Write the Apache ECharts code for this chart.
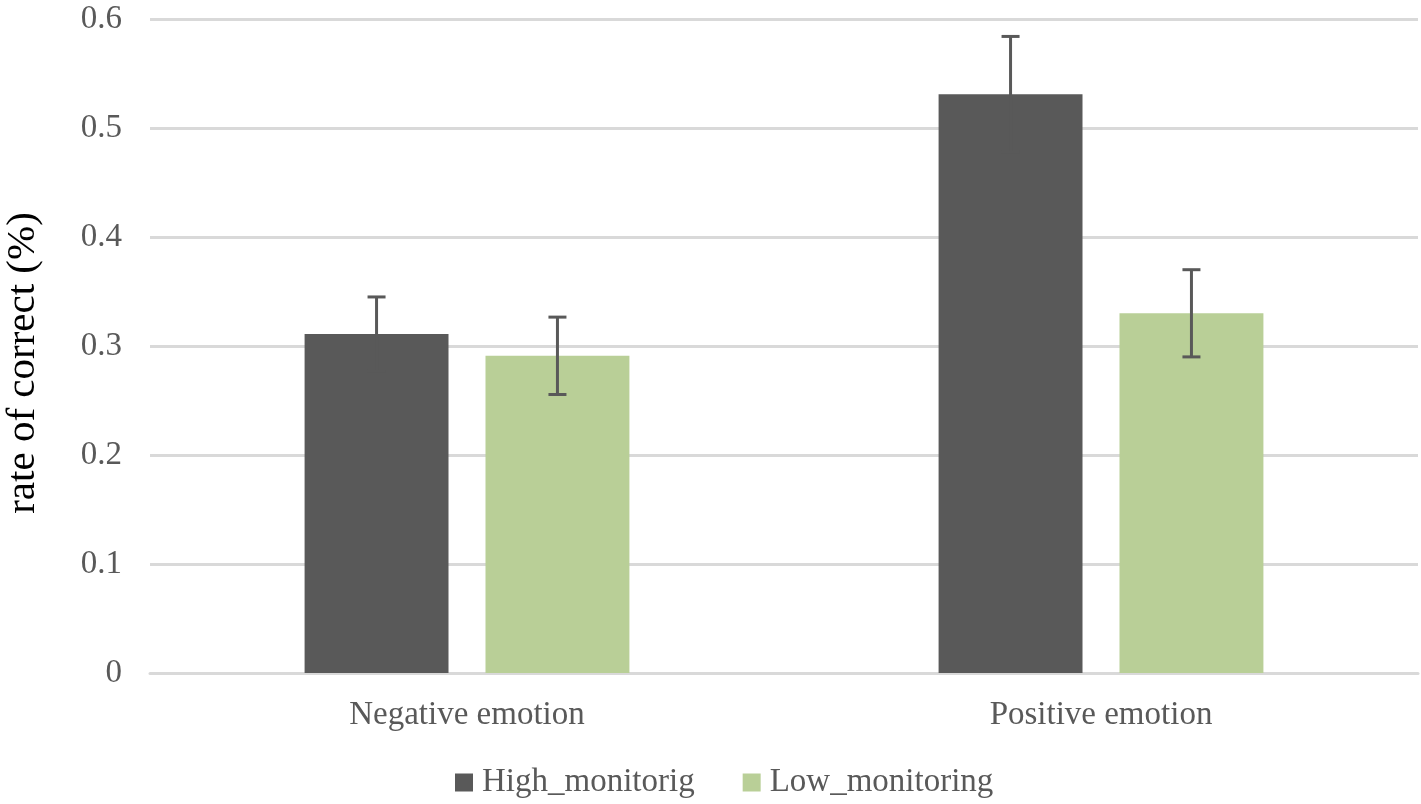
<!DOCTYPE html>
<html>
<head>
<meta charset="utf-8">
<script src="https://cdn.jsdelivr.net/npm/echarts@6/dist/echarts.min.js"></script>
<style>
html,body{margin:0;padding:0;background:#fff;}
#main{width:1421px;height:804px;}
</style>
</head>
<body>
<div id="main"></div>
<script>
var categories = ['Negative emotion', 'Positive emotion'];
var seriesNames = ['High_monitorig', 'Low_monitoring'];
var highValues = [0.311, 0.531];
var lowValues = [0.291, 0.330];
var highErrors = [0.034, 0.053];
var lowErrors = [0.0355, 0.040];
var yTicks = [0, 0.1, 0.2, 0.3, 0.4, 0.5, 0.6];

var colors = ['#595959', '#b9cf97'];
var barPct = 0.227;
var gapPct = 0.257;

function errorSeries(idx, values, errors) {
	var data = [];
	for (var i = 0; i < values.length; i++) {
		data.push([i, values[i] - errors[i], values[i] + errors[i]]);
	}
	return {
		type: 'custom',
		name: seriesNames[idx],
		z: 10,
		silent: true,
		renderItem: function (params, api) {
			var band = api.size([1, 0])[0];
			var bw = band * barPct;
			var off = (idx === 0 ? -1 : 1) * (bw + bw * gapPct) / 2;
			var lo = api.coord([api.value(0), api.value(1)]);
			var hi = api.coord([api.value(0), api.value(2)]);
			var x = lo[0] + off;
			var cap = 9;
			var st = {stroke: '#595959', lineWidth: 3};
			return {
				type: 'group',
				children: [
					{type: 'line', shape: {x1: x, y1: lo[1], x2: x, y2: hi[1]}, style: st},
					{type: 'line', shape: {x1: x - cap, y1: hi[1], x2: x + cap, y2: hi[1]}, style: st},
					{type: 'line', shape: {x1: x - cap, y1: lo[1], x2: x + cap, y2: lo[1]}, style: st}
				]
			};
		},
		data: data
	};
}

var myChart = echarts.init(document.getElementById('main'));
var option = {
	animation: false,
	textStyle: {fontFamily: 'Liberation Serif'},
	grid: {left: 150, right: 3, top: 19, bottom: 131, containLabel: false, outerBoundsMode: 'none'},
	legend: {
		data: seriesNames,
		bottom: 0,
		left: 450,
		itemWidth: 18,
		itemHeight: 18,
		itemGap: 48,
		icon: 'rect',
		textStyle: {fontFamily: 'Liberation Serif', fontSize: 33, color: '#595959', padding: [0, 0, 0, 4]}
	},
	xAxis: {
		type: 'category',
		data: categories,
		axisTick: {show: false},
		axisLine: {lineStyle: {color: '#d9d9d9', width: 3}},
		axisLabel: {fontFamily: 'Liberation Serif', fontSize: 33, color: '#595959', margin: 26}
	},
	yAxis: {
		type: 'value',
		min: yTicks[0],
		max: yTicks[yTicks.length - 1],
		interval: 0.1,
		name: 'rate of correct (%)',
		nameLocation: 'middle',
		nameGap: 106,
		nameTextStyle: {fontFamily: 'Liberation Serif', fontSize: 41, color: '#000', padding: [0, 34, 0, 0]},
		axisLine: {show: false},
		axisTick: {show: false},
		splitLine: {lineStyle: {color: '#d9d9d9', width: 3}},
		axisLabel: {fontFamily: 'Liberation Serif', fontSize: 33, color: '#595959', margin: 28,
			formatter: function (v) { return String(Math.round(v * 10) / 10); }}
	},
	series: [
		{
			name: seriesNames[0],
			type: 'bar',
			data: highValues,
			barWidth: (barPct * 100) + '%',
			barGap: (gapPct * 100) + '%',
			itemStyle: {color: colors[0]}
		},
		{
			name: seriesNames[1],
			type: 'bar',
			data: lowValues,
			barWidth: (barPct * 100) + '%',
			barGap: (gapPct * 100) + '%',
			itemStyle: {color: colors[1]}
		},
		errorSeries(0, highValues, highErrors),
		errorSeries(1, lowValues, lowErrors)
	]
};
myChart.setOption(option);
</script>
</body>
</html>
